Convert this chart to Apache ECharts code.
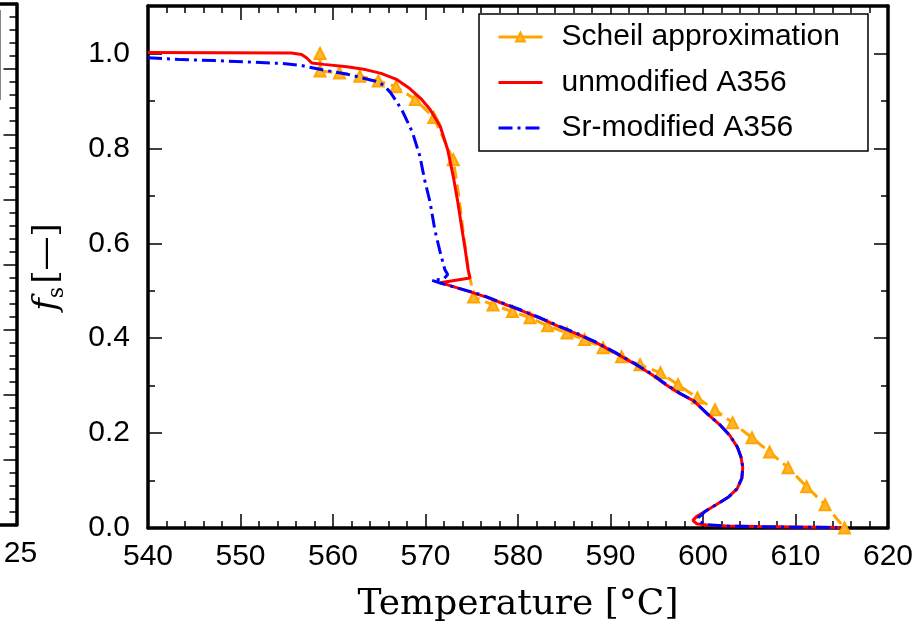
<!DOCTYPE html>
<html>
<head>
<meta charset="utf-8">
<script src="https://cdn.jsdelivr.net/npm/echarts@6/dist/echarts.min.js"></script>
<style>
  html, body { margin: 0; padding: 0; background: #fff; }
  #chart { width: 923px; height: 633px; }
</style>
</head>
<body>
<div id="chart"></div>
<script>
// Solid fraction f_s versus temperature for A356 alloys.

// Scheil approximation (temperature in °C, solid fraction)
const scheilT  = [558.6, 558.6, 560.7, 562.9, 564.9, 566.8, 568.9, 570.9, 573.0, 573.6, 574.1, 574.6, 575.2,
                  577.3, 579.4, 581.3, 583.2, 585.3, 587.2, 589.2, 591.2, 593.2, 595.4, 597.3, 599.4,
                  601.3, 603.2, 605.3, 607.2, 609.2, 611.2, 613.2, 615.3];
const scheilFs = [1.000, 0.963, 0.959, 0.952, 0.942, 0.930, 0.903, 0.865, 0.776, 0.700, 0.620, 0.550, 0.487,
                  0.470, 0.456, 0.443, 0.426, 0.411, 0.397, 0.380, 0.361, 0.344, 0.327, 0.302, 0.274,
                  0.249, 0.222, 0.190, 0.160, 0.127, 0.087, 0.049, 0.000];
// points of the Scheil curve that carry a marker
const scheilMarked = [1, 1, 1, 1, 1, 1, 1, 1, 1, 0, 0, 0, 1,
                      1, 1, 1, 1, 1, 1, 1, 1, 1, 1, 1, 1,
                      1, 1, 1, 1, 1, 1, 1, 1];

// unmodified A356
const unmodT  = [540.0, 555.5, 556.6, 557.2, 557.7, 559.0, 561.5, 563.5, 565.2, 566.8, 568.3, 569.5, 570.5,
                 571.6, 572.4, 573.0, 573.5, 573.9, 574.3, 574.6, 574.8, 571.6, 575.1, 576.5, 578.5,
                 580.5, 582.5, 584.5, 586.5, 588.5, 590.5, 592.5, 594.5, 596.0, 597.5, 599.0, 600.5,
                 601.8, 602.9, 603.7, 604.1, 604.3, 604.2, 603.7, 602.8, 601.5, 600.3, 599.3, 598.9,
                 599.3, 600.6, 602.6, 606.0, 610.0, 614.8];
const unmodFs = [1.002, 1.001, 0.998, 0.990, 0.980, 0.977, 0.972, 0.966, 0.958, 0.946, 0.926, 0.905, 0.882,
                 0.846, 0.797, 0.741, 0.686, 0.635, 0.586, 0.545, 0.527, 0.517, 0.496, 0.487, 0.472,
                 0.457, 0.441, 0.424, 0.408, 0.390, 0.369, 0.347, 0.323, 0.302, 0.283, 0.268, 0.240,
                 0.218, 0.195, 0.171, 0.150, 0.128, 0.105, 0.083, 0.066, 0.050, 0.036, 0.024, 0.016,
                 0.009, 0.006, 0.004, 0.003, 0.002, 0.001];

// Sr-modified A356
const srT  = [540.0, 543.6, 547.2, 550.8, 554.4, 556.5, 558.7, 561.6, 564.5, 565.5, 566.2, 566.9, 567.6,
              568.6, 569.4, 569.9, 570.5, 571.0, 571.6, 572.1, 572.4, 572.0, 570.7, 571.6, 575.1,
              576.5, 578.5, 580.5, 582.5, 584.5, 586.5, 588.5, 590.5, 592.5, 594.5, 596.0, 597.5,
              599.0, 600.5, 601.8, 602.9, 603.7, 604.1, 604.3, 604.2, 603.7, 602.8, 601.5, 600.3,
              599.5, 599.6, 600.5, 602.5, 608.0, 614.5];
const srFs = [0.991, 0.987, 0.985, 0.982, 0.979, 0.975, 0.966, 0.956, 0.942, 0.933, 0.918, 0.898, 0.875,
              0.833, 0.783, 0.734, 0.686, 0.629, 0.580, 0.544, 0.534, 0.525, 0.522, 0.516, 0.497,
              0.488, 0.473, 0.458, 0.442, 0.425, 0.409, 0.391, 0.370, 0.348, 0.324, 0.303, 0.284,
              0.268, 0.240, 0.218, 0.195, 0.171, 0.150, 0.128, 0.105, 0.083, 0.066, 0.050, 0.036,
              0.022, 0.013, 0.007, 0.004, 0.002, 0.001];

const seriesNames = ['Scheil approximation', 'unmodified A356', 'Sr-modified A356'];

// axis ranges
const tempRange = [540, 620];
const tempStep = 10;
const fsRange = [0, 1.1];
const fsStep = 0.2;

// neighbouring panel on the left edge
const sidePanelX = [0, 25];
const sidePanelY = [0, 8];

const pairs = (xs, ys) => xs.map((x, i) => [x, ys[i]]);

const FONT = 'Liberation Sans, Arial, sans-serif';
const SERIF = 'DejaVu Serif, serif';
const INK = '#000';
const ORANGE = '#ffa500';
const RED = '#ff0000';
const BLUE = '#0000ff';
const frame = { show: true, onZero: false, lineStyle: { color: INK, width: 3.5 } };
const majorTick = { show: true, inside: true, length: 14, lineStyle: { color: INK, width: 1.5 } };
const minorTickLine = { show: true, inside: true, length: 7, lineStyle: { color: INK, width: 1.5 } };
const noLabel = { show: false };
const noSplit = { show: false };

const scheilData = scheilT.map((t, i) => scheilMarked[i]
  ? [t, scheilFs[i]]
  : { value: [t, scheilFs[i]], symbol: 'none' });

const chart = echarts.init(document.getElementById('chart'), null, { renderer: 'canvas' });

chart.setOption({
  animation: false,
  backgroundColor: '#fff',
  grid: [
    { left: 148, right: 35, top: 6, bottom: 105, outerBoundsMode: 'none', containLabel: false },
    { left: -400, right: 906.5, top: 4, bottom: 108, outerBoundsMode: 'none', containLabel: false }
  ],
  xAxis: [
    {
      type: 'value', gridIndex: 0, position: 'bottom',
      min: tempRange[0], max: tempRange[1], interval: tempStep,
      axisLine: frame, axisTick: majorTick,
      minorTick: Object.assign({ splitNumber: 5 }, minorTickLine),
      splitLine: noSplit, minorSplitLine: noSplit,
      axisLabel: { color: INK, fontSize: 30, fontFamily: FONT, margin: 14 },
      name: 'Temperature [°C]', nameLocation: 'middle', nameGap: 59,
      nameTextStyle: { color: INK, fontSize: 36, fontFamily: SERIF }
    },
    {
      type: 'value', gridIndex: 0, position: 'top',
      min: tempRange[0], max: tempRange[1], interval: tempStep,
      axisLine: frame, axisTick: majorTick,
      minorTick: Object.assign({ splitNumber: 5 }, minorTickLine),
      splitLine: noSplit, minorSplitLine: noSplit, axisLabel: noLabel
    },
    {
      type: 'value', gridIndex: 1, position: 'bottom',
      min: sidePanelX[0], max: sidePanelX[1], interval: 5,
      axisLine: frame, axisTick: { show: false }, splitLine: noSplit,
      axisLabel: { color: INK, fontSize: 30, fontFamily: FONT, margin: 14, padding: [0, 0, 0, 8] }
    },
    {
      type: 'value', gridIndex: 1, position: 'top',
      min: sidePanelX[0], max: sidePanelX[1], interval: 5,
      axisLine: frame, axisTick: { show: false }, splitLine: noSplit, axisLabel: noLabel
    }
  ],
  yAxis: [
    {
      type: 'value', gridIndex: 0, position: 'left',
      min: fsRange[0], max: fsRange[1], interval: fsStep,
      axisLine: frame, axisTick: majorTick, splitLine: noSplit,
      axisLabel: {
        color: INK, fontSize: 30, fontFamily: FONT, margin: 18,
        formatter: v => (Math.abs(v / fsStep - Math.round(v / fsStep)) < 1e-6 ? v.toFixed(1) : '')
      },
      name: '{f|f}{s|s} {b|[—]}', nameLocation: 'middle', nameGap: 80, nameRotate: 90,
      nameTextStyle: {
        color: INK,
        rich: {
          f: { fontFamily: SERIF, fontStyle: 'italic', fontSize: 34, lineHeight: 42, color: INK },
          s: { fontFamily: SERIF, fontSize: 22, lineHeight: 22, verticalAlign: 'bottom', color: INK },
          b: { fontFamily: SERIF, fontSize: 34, lineHeight: 42, color: INK }
        }
      }
    },
    {
      type: 'value', gridIndex: 0, position: 'left',
      min: fsRange[0], max: fsRange[1], interval: fsStep / 2,
      axisLine: { show: false }, axisTick: minorTickLine, splitLine: noSplit, axisLabel: noLabel
    },
    {
      type: 'value', gridIndex: 0, position: 'right',
      min: fsRange[0], max: fsRange[1], interval: fsStep,
      axisLine: frame, axisTick: majorTick, splitLine: noSplit, axisLabel: noLabel
    },
    {
      type: 'value', gridIndex: 0, position: 'right',
      min: fsRange[0], max: fsRange[1], interval: fsStep / 2,
      axisLine: { show: false }, axisTick: minorTickLine, splitLine: noSplit, axisLabel: noLabel
    },
    {
      type: 'value', gridIndex: 1, position: 'right',
      min: sidePanelY[0], max: sidePanelY[1], interval: 1,
      axisLine: frame,
      axisTick: { show: true, inside: true, length: 13, lineStyle: { color: INK, width: 1.5 } },
      minorTick: { show: true, splitNumber: 5, length: 7, lineStyle: { color: INK, width: 1.5 } },
      splitLine: noSplit, minorSplitLine: noSplit, axisLabel: noLabel
    }
  ],
  legend: {
    orient: 'vertical',
    left: 479, top: 14,
    padding: [8, 28, 8, 18],
    itemGap: 15.5,
    itemWidth: 44, itemHeight: 11,
    backgroundColor: '#fff',
    borderColor: INK, borderWidth: 1.5,
    textStyle: { color: INK, fontSize: 30, fontFamily: FONT, lineHeight: 30, padding: [0, 0, 0, 14] },
    data: [
      { name: seriesNames[0], lineStyle: { type: 'solid', width: 3 } },
      { name: seriesNames[1], lineStyle: { width: 3 }, itemStyle: { opacity: 0 } },
      { name: seriesNames[2], lineStyle: { width: 3 }, itemStyle: { opacity: 0 } }
    ]
  },
  series: [
    {
      name: seriesNames[0], type: 'line', xAxisIndex: 0, yAxisIndex: 0,
      data: scheilData, clip: false,
      symbol: 'triangle', symbolSize: 11, showSymbol: true,
      itemStyle: { color: '#ffb52e', borderColor: ORANGE, borderWidth: 2 },
      lineStyle: { color: ORANGE, width: 3, type: [12, 6] },
      z: 2
    },
    {
      name: seriesNames[1], type: 'line', xAxisIndex: 0, yAxisIndex: 0,
      data: pairs(unmodT, unmodFs), symbol: 'none', smooth: false,
      itemStyle: { color: RED },
      lineStyle: { color: RED, width: 3 },
      z: 3
    },
    {
      name: seriesNames[2], type: 'line', xAxisIndex: 0, yAxisIndex: 0,
      data: pairs(srT, srFs), symbol: 'none', smooth: false,
      itemStyle: { color: BLUE },
      lineStyle: { color: BLUE, width: 3, type: [14, 5, 3, 5] },
      z: 4
    }
  ],
  graphic: [
    {
      type: 'line', silent: true,
      shape: { x1: 0.5, y1: 10, x2: 0.5, y2: 100 },
      style: { stroke: '#888', lineWidth: 1 }
    }
  ]
});
</script>
</body>
</html>
